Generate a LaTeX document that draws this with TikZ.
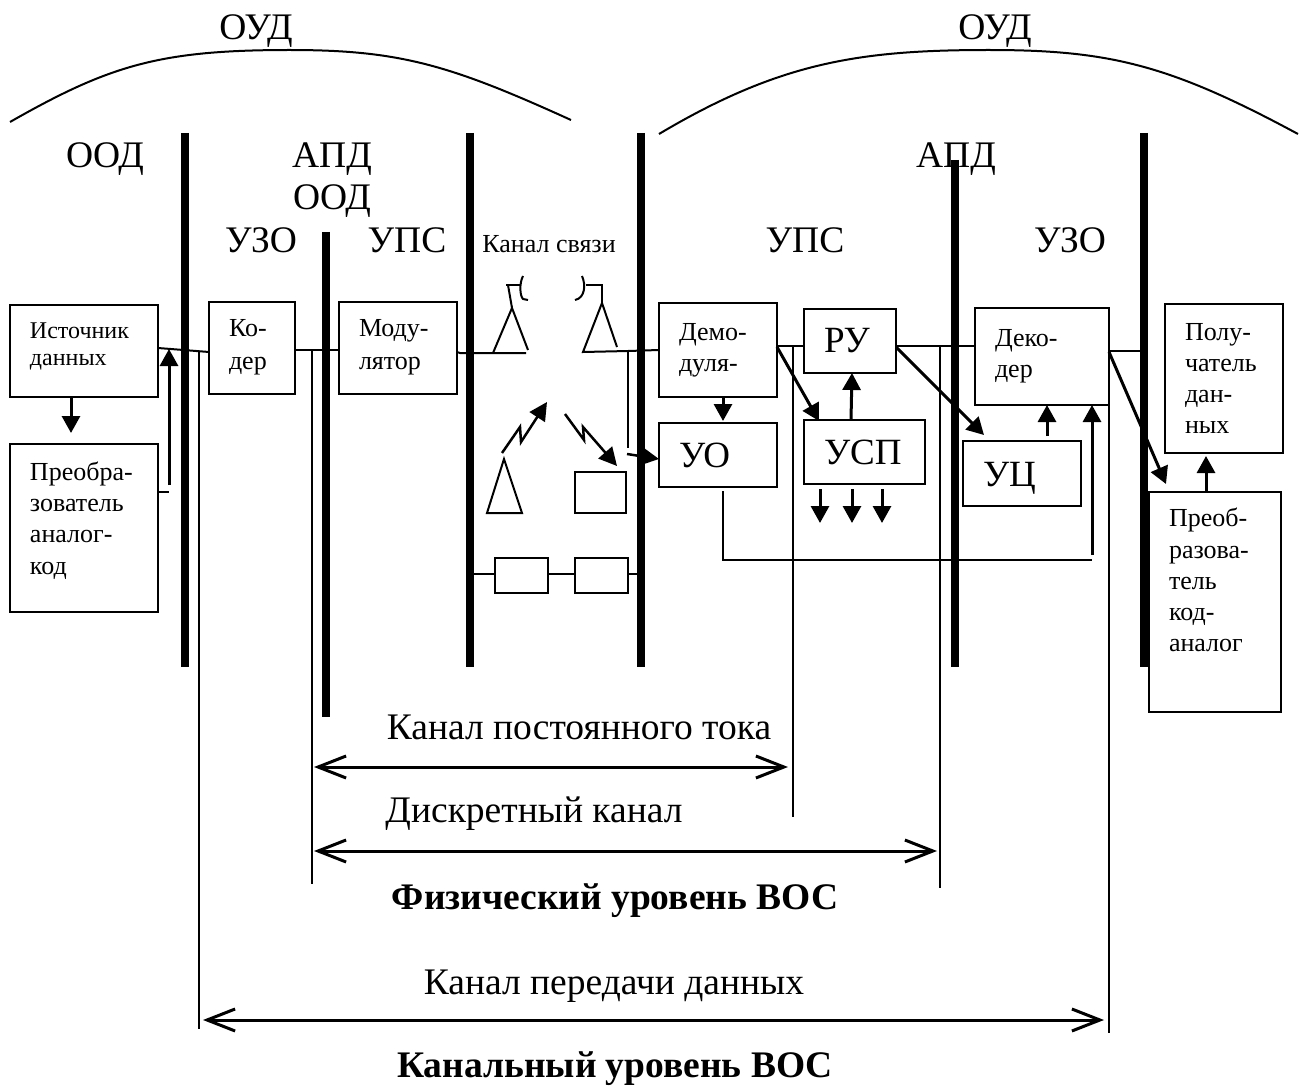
\documentclass[tikz,border=0pt]{standalone}
\usepackage{fontspec}
\setmainfont{Liberation Serif}
\usetikzlibrary{arrows.meta}
\newcommand{\padlow}[1]{\rule[-#1pt]{0pt}{#1pt}}

\begin{document}
\begin{tikzpicture}[x=1pt,y=-1pt]
		\tikzstyle{bigtext}=[font=\fontsize{37.5}{37.5}\selectfont,inner sep=0pt,anchor=base]
		\tikzstyle{boldtext}=[bigtext,font=\fontsize{37.5}{37.5}\selectfont\bfseries]
		\tikzstyle{box}=[draw,line width=2pt,rectangle,fill=white,anchor=north west,outer sep=0pt,inner xsep=20pt,inner ysep=0pt,align=left,font=\fontsize{26}{31.3}\selectfont]
		\tikzstyle{bigbox}=[box,font=\fontsize{37}{37}\selectfont]
		\tikzstyle{smallbox}=[draw,line width=2pt,rectangle,anchor=north west,outer sep=0pt,inner sep=0pt]
		\tikzstyle{bar}=[line width=7.5pt]
		\tikzstyle{wire}=[line width=2pt]
		\tikzstyle{flow}=[line width=3pt,-{Triangle[length=17pt,width=18pt]}]
		\tikzstyle{bolt}=[line width=2.5pt,-{Triangle[length=18pt,width=18pt]}]
		\tikzstyle{span}=[line width=3pt,{Straight Barb[length=28pt,width=22pt,line width=3pt]}-{Straight Barb[length=28pt,width=22pt,line width=3pt]}]

		\useasboundingbox (0,0) rectangle (1302,1086);

		% labels on top
		\node[bigtext] (oudA) at (256,40) {ОУД};
		\node[bigtext] (oudB) at (995,40) {ОУД};
		\node[bigtext] (oodA) at (105,168) {ООД};
		\node[bigtext] (apdA) at (332,168) {АПД};
		\node[bigtext] (oodB) at (332,210) {ООД};
		\node[bigtext] (apdB) at (956,168) {АПД};
		\node[bigtext] (uzoA) at (261,253) {УЗО};
		\node[bigtext] (upsA) at (407,253) {УПС};
		\node[bigtext] (upsB) at (805,253) {УПС};
		\node[bigtext] (uzoB) at (1070,253) {УЗО};
		\node[bigtext,font=\fontsize{26}{26}\selectfont] (chan) at (549,253) {Канал связи};

		\draw[wire] (10,122) .. controls (110,65) and (160,50) .. (290,50) .. controls (400,50) and (450,65) .. (571,120);
		\draw[wire] (659,134) .. controls (780,62) and (860,50) .. (989,50) .. controls (1110,50) and (1170,65) .. (1298,134);

		\draw[bar] (185,133) -- (185,667);
		\draw[bar] (326,232) -- (326,717);
		\draw[bar] (470,133) -- (470,667);
		\draw[bar] (641,133) -- (641,667);
		\draw[bar] (955,160) -- (955,667);
		\draw[bar] (1144,133) -- (1144,667);

		% boxes
		\node[box,font=\fontsize{24}{27}\selectfont,text width=108pt,minimum height=92pt] (src) at (10,305) {Источник\\данных\padlow{14}};
		\node[box,text width=108pt,minimum height=168pt] (adc) at (10,444) {Преобра-\\зователь\\аналог-\\код\padlow{20}};
		\node[box,font=\fontsize{26}{33}\selectfont,text width=46pt,minimum height=92pt] (cod) at (209,302) {Ко-\\дер\padlow{8}};
		\node[box,font=\fontsize{26}{33}\selectfont,text width=78pt,minimum height=92pt] (mod) at (339,302) {Моду-\\лятор\padlow{8}};
		\node[box,text width=78pt,minimum height=94pt] (dem) at (659,303) {Демо-\\дуля-};
		\node[bigbox,text width=78pt,minimum height=64pt] (uo) at (659,423) {УО};
		\node[bigbox,text width=52pt,minimum height=64pt] (ru) at (804,309) {РУ};
		\node[bigbox,text width=81pt,minimum height=64pt] (usp) at (804,420) {УСП};
		\node[box,text width=94pt,minimum height=97pt] (dec) at (975,308) {Деко-\\дер\padlow{5}};
		\node[bigbox,text width=78pt,minimum height=65pt] (uc) at (963,441) {\rule{0pt}{34pt}УЦ};
		\node[box,text width=78pt,minimum height=149pt] (dst) at (1165,304) {Полу-\\чатель\\дан-\\ных};
		\node[box,text width=92pt,minimum height=220pt] (dac) at (1149,492) {Преоб-\\разова-\\тель\\код-\\аналог\padlow{44}};

		% channel
		\node[smallbox,minimum width=51pt,minimum height=41pt] (recv) at (575,472) {};
		\node[smallbox,minimum width=53pt,minimum height=35pt] (lineA) at (495,558) {};
		\node[smallbox,minimum width=53pt,minimum height=35pt] (lineB) at (575,558) {};
		\draw[wire] (470,574) -- (lineA.west |- 0,574);
		\draw[wire] (lineA.east |- 0,574) -- (lineB.west |- 0,574);
		\draw[wire] (lineB.east |- 0,574) -- (641,574);

		\draw[wire] (493,353) -- (512,308) -- (528,350);
		\draw[wire] (mod.east |- 0,352) -- (460,353) -- (526,353);
		\draw[wire] (512,308) -- (508,285);
		\draw[wire] (506,285) -- (521,285);
		\draw[wire] (523,276) .. controls (519,284) and (520,296) .. (523,299) -- (528,300);
		\draw[wire] (617,347) -- (602,303) -- (583,352) -- (628,351) -- (dem.west |- 0,350);
		\draw[wire] (602,303) -- (602,285) -- (586,285);
		\draw[wire] (582,276) .. controls (586,285) and (585,298) .. (575,300);
		\draw[wire] (504,459) -- (487,513) -- (522,513) -- cycle;
		\draw[bolt] (502,453) -- (520,427) -- (521,442) -- (547,402);
		\draw[bolt] (565,414) -- (584,440) -- (583,427) -- (617,466);
		\draw[wire] (628,351) -- (628,448);
		\draw[bolt] (627,454) -- (uo.west |- 0,459);

		% signal path
		\draw[wire] (src.east |- 0,348) -- (cod.west |- 0,352);
		\draw[wire] (cod.east |- 0,350) -- (mod.west |- 0,350);
		\draw[wire] (dem.east |- 0,346) -- (ru.west |- 0,346);
		\draw[wire] (ru.east |- 0,346) -- (dec.west |- 0,346);
		\draw[wire] (dec.east |- 0,351) -- (1140,351);
		\draw[flow] (src.south -| 71,0) -- ([yshift=11pt]adc.north -| 71,0);
		\draw[wire] (adc.east |- 0,492) -- (169,492);
		\draw[flow] (169,485) -- (169,349);
		\draw[flow] (dem.south -| 723,0) -- ([yshift=2pt]uo.north -| 723,0);
		\draw[flow] (dem.east |- 0,347) -- (819,421);
		\draw[flow] (ru.east |- 0,347) -- (984,435);
		\draw[flow] (usp.north -| 851,0) -- (ru.south -| 852,0);
		\draw[flow] (820,489) -- (820,523);
		\draw[flow] (852,489) -- (852,523);
		\draw[flow] (882,489) -- (882,523);
		\draw[flow] ([yshift=5pt]uc.north -| 1047,0) -- (dec.south -| 1047,0);
		\draw[wire] (723,491) -- (723,560) -- (1092,560);
		\draw[flow] (1092,555) -- (dec.south -| 1092,0);
		\draw[flow] (dec.east |- 0,352) -- (1166,484);
		\draw[flow] (dac.north -| 1206,0) -- ([yshift=-3pt]dst.south -| 1206,0);

		% measuring lines
		\draw[wire] (199,351) -- (199,1029);
		\draw[wire] (312,350) -- (312,884);
		\draw[wire] (793,346) -- (793,817);
		\draw[wire] (940,346) -- (940,888);
		\draw[wire] (dec.south east) -- (dec.south east |- 0,1033);

		\node[bigtext] (dcChan) at (579,739) {Канал постоянного тока};
		\node[bigtext] (discChan) at (534,822) {Дискретный канал};
		\node[boldtext] (phys) at (615,909) {Физический уровень ВОС};
		\node[bigtext] (dataChan) at (614,994) {Канал передачи данных};
		\node[boldtext] (link) at (615,1077) {Канальный уровень ВОС};

		\draw[span] (314,767) -- (788,767);
		\draw[span] (314,851) -- (937,851);
		\draw[span] (203,1020) -- (1104,1020);
\end{tikzpicture}
\end{document}
